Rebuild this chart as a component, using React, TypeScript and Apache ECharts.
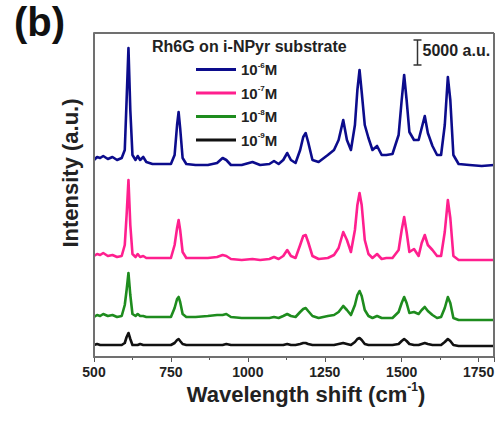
import React, { useEffect, useRef } from "react";
import * as echarts from "echarts";

const FONT = "'Liberation Sans', Arial, Helvetica, sans-serif";

// Raman shift positions (cm^-1)
const shifts = [
  500, 510, 520, 530, 545, 560, 575, 590,
  600, 606, 612, 618,
  625, 635, 642, 650, 660, 670,
  690, 720, 750,
  762, 770, 775, 780, 788,
  800, 830, 870, 900, 918, 930, 945,
  980, 1015, 1040, 1070, 1085, 1100, 1115,
  1128, 1140, 1155, 1170, 1180, 1188, 1196,
  1210, 1230, 1260, 1280, 1295,
  1310, 1322, 1335, 1348, 1356, 1363, 1370,
  1380, 1392, 1405, 1420, 1435, 1450, 1470,
  1490, 1500, 1508, 1516, 1525,
  1540, 1555, 1565, 1575, 1585,
  1600, 1615, 1628,
  1640, 1650, 1658, 1668,
  1685, 1720, 1760, 1800,
];

// 10^-6 M (offset spectrum, a.u.)
const int6 = [
  39400, 40000, 39800, 40200, 39600, 40000, 39400, 39800,
  41400, 51400, 61800, 49400,
  40400, 39400, 40200, 39400, 40000, 39000,
  38600, 38600, 38600,
  40400, 46400, 49000, 45800, 39800,
  38600, 38400, 38400, 38800, 39800, 39400, 38400,
  38400, 39000, 38400, 38600, 39200, 38600, 39400,
  40800, 39400, 38800, 41400, 44000, 44800, 43000,
  39400, 39000, 40400, 41400, 43400,
  47400, 43400, 41400, 46400, 53400, 57400, 53000,
  46400, 43800, 41400, 42200, 40400, 40400, 40600,
  44400, 51400, 56400, 51400, 45000,
  43400, 43400, 45800, 48200, 44800,
  42200, 40400, 40400,
  46400, 56000, 51400, 40400,
  38600, 38400, 38200, 38400,
];

// 10^-7 M
const int7 = [
  20200, 20600, 20400, 20800, 20200, 20400, 20000, 20200,
  22400, 28400, 35400, 26400,
  20600, 20000, 20600, 20000, 20200, 19800,
  19800, 19800, 19800,
  22400, 25800, 27400, 25400, 21000,
  19800, 19800, 19800, 20000, 20400, 20200, 19600,
  19400, 19600, 19400, 19600, 20000, 19600, 20200,
  21400, 20200, 19800, 22400, 24200, 24400, 23000,
  20200, 19600, 19800, 20400, 21800,
  25000, 23400, 21000, 25400, 30400, 32800, 30400,
  23400, 20600, 19800, 20600, 19600, 19800, 19800,
  21400, 25400, 28000, 25000, 21000,
  21600, 20200, 22800, 24400, 22400,
  21400, 20200, 20200,
  25000, 31400, 27800, 20200,
  19400, 19400, 19400, 19400,
];

// 10^-8 M
const int8 = [
  8000, 8400, 8200, 8600, 8200, 8400, 8000, 8200,
  10400, 13400, 16800, 12400,
  8600, 8200, 8600, 8200, 8200, 8000,
  8000, 8000, 8000,
  9800, 11600, 12000, 11000, 8600,
  8000, 8000, 8200, 8400, 8400, 8600, 8000,
  7800, 7800, 7800, 7800, 8000, 7800, 8200,
  8600, 8200, 8000, 9000, 9600, 9800, 9200,
  8200, 7800, 8200, 8400, 9000,
  10200, 9400, 8400, 10400, 12400, 13200, 12200,
  9400, 8200, 7800, 8200, 7800, 7800, 7800,
  9000, 10800, 12000, 10800, 8800,
  9000, 8600, 9400, 10000, 9200,
  8400, 7800, 8000,
  9800, 12000, 10800, 7800,
  7400, 7400, 7400, 7400,
];

// 10^-9 M
const int9 = [
  2400, 2600, 2400, 2400, 2400, 2400, 2400, 2400,
  2800, 4000, 4800, 3600,
  2400, 2400, 2400, 2600, 2400, 2400,
  2400, 2400, 2400,
  2800, 3400, 3600, 3200, 2600,
  2400, 2400, 2400, 2400, 2400, 2600, 2400,
  2400, 2400, 2400, 2400, 2400, 2400, 2400,
  2600, 2400, 2400, 2600, 2800, 2800, 2600,
  2400, 2400, 2400, 2400, 2600,
  2800, 2600, 2400, 3000, 3600, 3800, 3400,
  2600, 2400, 2400, 2400, 2400, 2400, 2400,
  2600, 3200, 3600, 3200, 2600,
  2400, 2400, 2600, 2800, 2600,
  2400, 2400, 2400,
  3000, 3600, 3200, 2400,
  2200, 2200, 2200, 2200,
];

const seriesNames = ["10⁻⁶M", "10⁻⁷M", "10⁻⁸M", "10⁻⁹M"];
const exponents = ["-6", "-7", "-8", "-9"];
const seriesData = [int6, int7, int8, int9];
const colors = ["#0c0c8c", "#ff1f8e", "#1e8c1e", "#111111"];

const legendTitle = "Rh6G on i-NPyr substrate";
const scaleBarValue = 5000;
const scaleBarLabel = "5000 a.u.";
const scaleBarShift = 1549;
const scaleBarTop = 63400;

const X_MIN = 500;
const X_MAX = 1800;
const Y_MIN = 0;
const Y_MAX = 64800;

const FRAME = "#707070";

export default function App() {
  const ref = useRef<HTMLDivElement>(null);

  useEffect(() => {
    document.body.style.margin = "0";
    if (!ref.current) return;
    const chart = echarts.init(ref.current, undefined, { renderer: "svg" });

    const series = seriesNames.map((name, k) => ({
      name,
      type: "line",
      showSymbol: false,
      symbol: "none",
      data: shifts.map((s, i) => [s, seriesData[k][i]]),
      lineStyle: { color: colors[k], width: 2.6, join: "round" },
      itemStyle: { color: colors[k] },
      z: 2 + (3 - k),
    }));

    const baseGraphic: any[] = [
      {
        type: "text",
        left: 14,
        top: 2,
        style: { text: "(b)", fontFamily: FONT, fontSize: 40, fontWeight: "bold", fill: "#111" },
      },
      {
        type: "text",
        x: 70,
        y: 173,
        rotation: Math.PI / 2,
        style: {
          text: "Intensity (a.u.)",
          fontFamily: FONT,
          fontSize: 22,
          fontWeight: "bold",
          fill: "#222",
          align: "center",
          verticalAlign: "middle",
        },
      },
      {
        type: "text",
        x: 306,
        y: 394,
        style: {
          text: "{t|Wavelength shift (cm}{s|-1}{t|)}",
          align: "center",
          verticalAlign: "middle",
          rich: {
            t: { fontFamily: FONT, fontSize: 22, fontWeight: "bold", fill: "#222", lineHeight: 26 },
            s: { fontFamily: FONT, fontSize: 12, fontWeight: "bold", fill: "#222", verticalAlign: "top", lineHeight: 12 },
          },
        },
      },
    ];

    chart.setOption({
      animation: false,
      backgroundColor: "#ffffff",
      title: {
        text: legendTitle,
        left: 152,
        top: 38,
        padding: 0,
        textStyle: { fontFamily: FONT, fontSize: 16, fontWeight: "bold", color: "#222" },
      },
      legend: {
        orient: "vertical",
        left: 196,
        top: 61,
        padding: 0,
        itemWidth: 40,
        itemHeight: 3,
        itemGap: 7.5,
        icon: "rect",
        data: seriesNames,
        formatter: (name: string) => {
          const i = seriesNames.indexOf(name);
          return `{b|10}{s|${exponents[i]}}{b|M}`;
        },
        textStyle: {
          fontFamily: FONT,
          fontWeight: "bold",
          color: "#222",
          rich: {
            b: { fontFamily: FONT, fontSize: 15, fontWeight: "bold", color: "#222", lineHeight: 17 },
            s: { fontFamily: FONT, fontSize: 8, fontWeight: "bold", color: "#222", verticalAlign: "top", lineHeight: 9 },
          },
        },
      },
      grid: {
        left: 94,
        right: 9,
        top: 33,
        bottom: 64,
        containLabel: false,
      },
      xAxis: {
        type: "value",
        min: X_MIN,
        max: X_MAX,
        interval: 250,
        axisLine: { show: true, onZero: false, lineStyle: { color: FRAME, width: 2 } },
        axisTick: { show: true, inside: false, length: 5, lineStyle: { color: "#555", width: 1 } },
        minorTick: { show: true, splitNumber: 2, length: 3, lineStyle: { color: "#555", width: 1 } },
        axisLabel: {
          showMaxLabel: false,
          formatter: (v: number) => String(v),
          fontFamily: FONT,
          fontSize: 14,
          fontWeight: "bold",
          color: "#222",
          margin: 8,
        },
        splitLine: { show: false },
        minorSplitLine: { show: false },
      },
      yAxis: {
        type: "value",
        min: Y_MIN,
        max: Y_MAX,
        axisLine: { show: true, onZero: false, lineStyle: { color: FRAME, width: 2 } },
        axisTick: { show: false },
        axisLabel: { show: false },
        splitLine: { show: false },
      },
      series,
      graphic: baseGraphic,
    });

    // plot frame corners from the axis extents
    const p0 = chart.convertToPixel({ gridIndex: 0 }, [X_MIN, Y_MAX]) as number[];
    const p1 = chart.convertToPixel({ gridIndex: 0 }, [X_MAX, Y_MIN]) as number[];

    // scale bar tied to the data scale
    const top = chart.convertToPixel({ gridIndex: 0 }, [scaleBarShift, scaleBarTop]) as number[];
    const bottom = chart.convertToPixel({ gridIndex: 0 }, [scaleBarShift, scaleBarTop - scaleBarValue]) as number[];
    const bx = Math.round(top[0]) + 0.5;
    const frameStyle = { stroke: FRAME, lineWidth: 2 };
    chart.setOption({
      graphic: [
        ...baseGraphic,
        { type: "line", z: 20, shape: { x1: p0[0], y1: p0[1], x2: p1[0], y2: p0[1] }, style: frameStyle },
        { type: "line", z: 20, shape: { x1: p1[0], y1: p0[1], x2: p1[0], y2: p1[1] }, style: frameStyle },
        { type: "line", z: 20, shape: { x1: p0[0], y1: p1[1], x2: p1[0], y2: p1[1] }, style: frameStyle },
        { type: "line", z: 20, shape: { x1: p0[0], y1: p0[1], x2: p0[0], y2: p1[1] }, style: frameStyle },
        {
          type: "line",
          shape: { x1: bx, y1: top[1], x2: bx, y2: bottom[1] },
          style: { stroke: "#333", lineWidth: 1.5 },
        },
        {
          type: "line",
          shape: { x1: bx - 4, y1: top[1], x2: bx + 4, y2: top[1] },
          style: { stroke: "#333", lineWidth: 1.5 },
        },
        {
          type: "line",
          shape: { x1: bx - 4, y1: bottom[1], x2: bx + 4, y2: bottom[1] },
          style: { stroke: "#333", lineWidth: 1.5 },
        },
        {
          type: "text",
          x: bx + 5,
          y: (top[1] + bottom[1]) / 2 - 2,
          style: {
            text: scaleBarLabel,
            fontFamily: FONT,
            fontSize: 16,
            fontWeight: "bold",
            fill: "#222",
            align: "left",
            verticalAlign: "middle",
          },
        },
      ],
    });

    return () => chart.dispose();
  }, []);

  return <div ref={ref} style={{ width: 503, height: 421 }} />;
}
